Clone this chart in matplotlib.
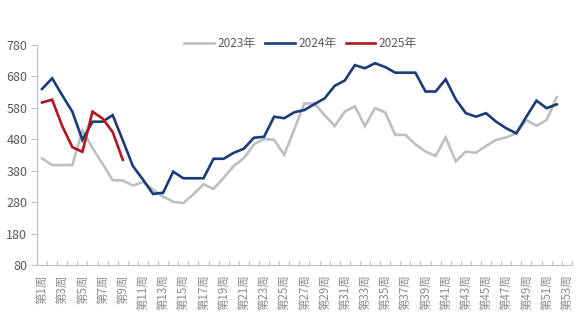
import matplotlib
matplotlib.use("Agg")
import matplotlib.pyplot as plt
import numpy as np

plt.rcParams['font.family'] = ['Noto Sans CJK SC', 'DejaVu Sans']

weeks = list(range(1, 54))
week_labels = [f"第{w}周" for w in weeks]

s2023 = [419, 398, 398, 398, 508, 452, 402, 350, 349, 333, 344, 320, 298, 281, 277,
         305, 337, 322, 358, 395, 420, 464, 481, 478, 431, 512, 594, 594, 557, 522,
         568, 585, 522, 579, 566, 494, 494, 464, 441, 427, 486, 410, 441, 437, 459,
         478, 486, 499, 541, 523, 541, 614]
s2024 = [640, 674, 620, 568, 478, 536, 536, 557, 477, 395, 352, 306, 310, 377, 356,
         356, 356, 418, 418, 437, 450, 485, 488, 552, 547, 566, 573, 592, 610, 650,
         667, 716, 706, 722, 710, 692, 692, 692, 632, 632, 671, 607, 563, 552, 563,
         536, 515, 499, 552, 603, 579, 591]
s2025 = [597, 606, 522, 455, 440, 568, 546, 503, 415]

series_names = ["2023年", "2024年", "2025年"]
colors = ["#BFBFBF", "#1B3B78", "#B2161E"]

fig = plt.figure(figsize=(5.84, 3.29), dpi=100)
ax = fig.add_axes([37/584, 1-265/329, (571.8-37)/584, 220/329])

for name, data, c in zip(series_names, [s2023, s2024, s2025], colors):
    ax.plot(weeks[:len(data)], data, color=c, lw=1.9, label=name, solid_joinstyle='miter')

ax.set_xlim(0.5, 53.5)
ax.set_ylim(80, 780)
ax.set_yticks(np.arange(80, 781, 100))
ax.set_xticks(weeks[::2])
ax.set_xticklabels(week_labels[::2], rotation=90, fontsize=8.3, color="#8C8C8C")
ax.set_xticks(np.arange(0.5, 54, 1), minor=True)
ax.tick_params(axis='x', which='major', length=0, pad=7)
ax.tick_params(axis='x', which='minor', direction='in', length=3, color="#BFBFBF", width=0.8)
ax.tick_params(axis='y', which='major', direction='out', length=4, color="#BFBFBF",
               labelsize=9, labelcolor="#595959", width=0.8, pad=3)

for s in ['top', 'right']:
    ax.spines[s].set_visible(False)
for s in ['left', 'bottom']:
    ax.spines[s].set_color("#BFBFBF")
    ax.spines[s].set_linewidth(0.8)

leg = fig.legend(loc='center', bbox_to_anchor=(0.515, 1-44/329), ncol=3, frameon=False,
                 fontsize=8.5, handlelength=2.5, columnspacing=0.8, handletextpad=0.3)
for t in leg.get_texts():
    t.set_color("#595959")

fig.savefig("out.png", dpi=100)
